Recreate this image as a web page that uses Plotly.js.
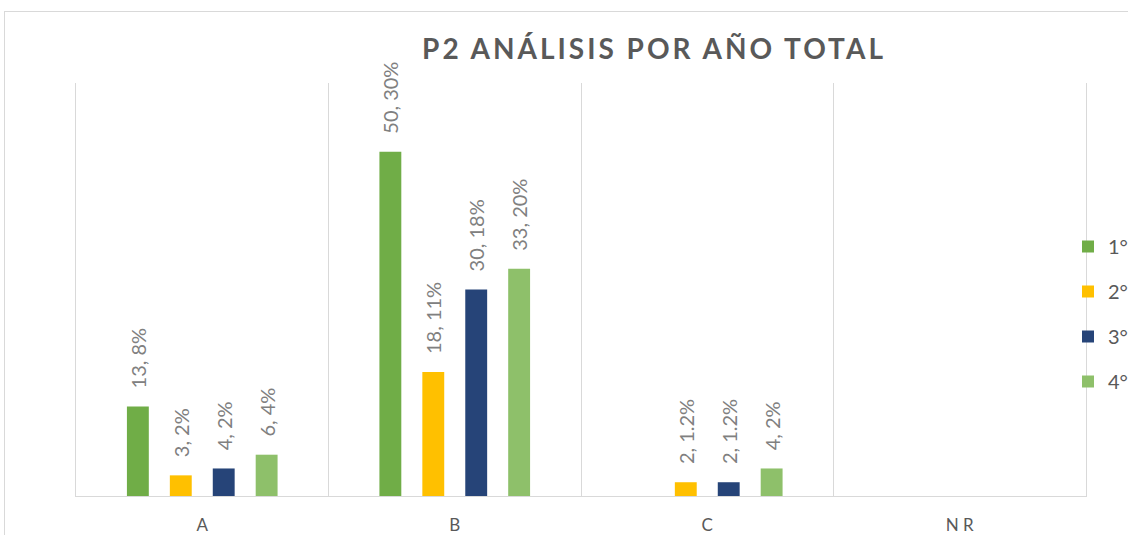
<!DOCTYPE html>
<html>
<head>
<meta charset="utf-8">
<script src="https://cdn.plot.ly/plotly-3.0.1.min.js"></script>
<style>
  html, body { margin: 0; padding: 0; background: #fff; overflow: hidden; }
  #wrap { position: relative; width: 1128px; height: 535px; }
  #chart { width: 1128px; height: 535px; }
  #frame { position: absolute; left: 4px; top: 11px; width: 1200px; height: 600px;
           border: 1px solid #d9d9d9; pointer-events: none; box-sizing: border-box; }
  .gtitle { letter-spacing: 3px; }
</style>
</head>
<body>
<div id="wrap">
  <div id="chart"></div>
  <div id="frame"></div>
</div>
<script>
const categories = ["A", "B", "C", "N R"];
const seriesNames = ["1°", "2°", "3°", "4°"];
const counts1 = [13, 50, null, null];
const counts2 = [3, 18, 2, null];
const counts3 = [4, 30, 2, null];
const counts4 = [6, 33, 4, null];
const pct1 = ["8%", "30%", null, null];
const pct2 = ["2%", "11%", "1.2%", null];
const pct3 = ["2%", "18%", "1.2%", null];
const pct4 = ["4%", "20%", "2%", null];
const colors = ["#70ad47", "#ffc000", "#264478", "#8ec06a"];

const allCounts = [counts1, counts2, counts3, counts4];
const allPct = [pct1, pct2, pct3, pct4];

// leading spaces lift the rotated label off the bar top, as in the reference
const lift = "\u2002\u00a0";

const traces = allCounts.map((vals, i) => ({
  type: "bar",
  name: seriesNames[i],
  legendgroup: "g" + i,
  x: categories,
  y: vals,
  text: vals.map((v, j) => v == null ? "" : lift + v + ", " + allPct[i][j]),
  textposition: "outside",
  textangle: -90,
  constraintext: "none",
  cliponaxis: false,
  textfont: { family: "Lato, sans-serif", size: 20, color: "#808080" },
  marker: { color: colors[i], line: { width: 0 } },
  hoverinfo: "skip"
}));

const layout = {
  width: 1128,
  height: 535,
  margin: { l: 76, r: 42, t: 83, b: 39, autoexpand: false },
  paper_bgcolor: "#ffffff",
  plot_bgcolor: "#ffffff",
  barmode: "group",
  bargap: 0.32,
  bargroupgap: 0.49,
  showlegend: true,
  title: {
    text: "<b>P2 ANÁLISIS POR AÑO TOTAL</b>",
    font: { family: "Lato, sans-serif", size: 28, color: "#595959" },
    x: 654 / 1128, xanchor: "center", xref: "container",
    y: 1 - 49 / 535, yanchor: "middle", yref: "container"
  },
  xaxis: {
    type: "category",
    tickson: "boundaries",
    showgrid: true,
    gridcolor: "#d9d9d9",
    gridwidth: 1,
    showline: true,
    linecolor: "#d9d9d9",
    linewidth: 1,
    ticks: "",
    ticklabelstandoff: 14,
    tickfont: { family: "Lato, sans-serif", size: 17, color: "#595959" },
    automargin: false,
    fixedrange: true
  },
  yaxis: {
    range: [0, 60],
    showgrid: false,
    zeroline: false,
    showticklabels: false,
    showline: true,
    mirror: true,
    linecolor: "#d9d9d9",
    linewidth: 1,
    ticks: "",
    automargin: false,
    fixedrange: true
  },
  legend: {
    xref: "container",
    yref: "container",
    x: 1068 / 1128,
    xanchor: "left",
    y: 1 - 227 / 535,
    yanchor: "top",
    traceorder: "grouped",
    tracegroupgap: 16,
    font: { family: "Lato, sans-serif", size: 20, color: "#595959" },
    bgcolor: "rgba(0,0,0,0)",
    itemwidth: 30
  }
};

Plotly.newPlot("chart", traces, layout, { displayModeBar: false, staticPlot: true });
</script>
</body>
</html>
